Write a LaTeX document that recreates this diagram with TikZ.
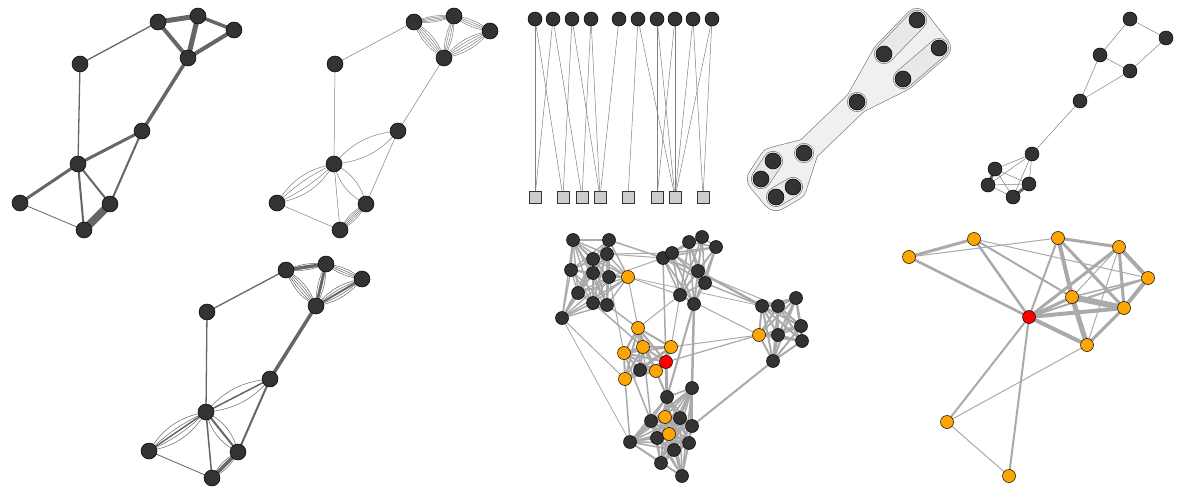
\documentclass[tikz,border=0pt]{standalone}
\usetikzlibrary{calc}
\definecolor{nd}{HTML}{333333}
\definecolor{eg}{HTML}{666666}
\definecolor{lg}{HTML}{AAAAAA}
\definecolor{og}{HTML}{FFA500}
\begin{document}
\begin{tikzpicture}[x=1pt,y=-1pt,
 dn/.style={circle,fill=nd,draw=black,line width=0.5pt,minimum size=16pt,inner sep=0pt},
 sn/.style={circle,fill=nd,draw=black,line width=0.5pt,minimum size=14pt,inner sep=0pt},
 bn/.style={circle,fill=nd,draw=black,line width=0.5pt,minimum size=13pt,inner sep=0pt},
 yn/.style={bn,fill=og},
 rn/.style={bn,fill=red},
 sq/.style={rectangle,fill=lg!60,draw=nd,line width=0.5pt,minimum size=12pt,inner sep=0pt},
 e1/.style={draw=eg},
 e2/.style={draw=gray,line width=0.5pt},
 ge/.style={draw=lg}]
\useasboundingbox (0,0) rectangle (1200,495);

% ---------- panel 1 ----------
\foreach \n/\x/\y in {1/158/22,2/198/16,3/234/30,4/188/58,5/80/64,6/142/131,7/78/164,8/20/203,9/110/204,10/84/230}
  \coordinate (A\n) at (\x,\y);
\foreach \a/\b/\w in {1/5/1.3,5/7/1.3,1/2/5,1/4/4,2/4/5,2/3/3.5,3/4/4,4/6/3.5,6/7/3,6/9/2,7/8/3,7/10/2,7/9/2,8/10/0.8,9/10/8}
  \draw[e1,line width=\w pt] (A\a) -- (A\b);
\foreach \n in {1,...,10} \node[dn] at (A\n) {};

% ---------- panel 2 ----------
\foreach \n/\x/\y in {1/414/22,2/454/16,3/490/31,4/444/58,5/335/64,6/398/131,7/334/164,8/277/203,9/366/204,10/340/230}
  \coordinate (B\n) at (\x,\y);
\foreach \n/\x/\y in {1/286/270,2/326/264,3/362/279,4/316/306,5/207/312,6/270/379,7/206/412,8/149/451,9/238/452,10/212/478}
  \coordinate (C\n) at (\x,\y);
\foreach \a/\b in {1/5,5/7,4/6,6/9,8/10,7/10} \draw[e2] (B\a) -- (B\b);
\foreach \a/\b/\L in {1/2/{-14,-7,0,7,14},1/4/{-20,-10,0,10,20},2/4/{-14,-5,5,14},2/3/{-16,-5,5,16},3/4/{-20,-10,0,10,20},6/7/{-22,22},7/8/{-24,-9,9,24},7/9/{-24,24},9/10/{-18,-9,0,9,18}}
  \foreach \bb in \L \draw[e2] (B\a) to[bend left=\bb] (B\b);
\foreach \n in {1,...,10} \node[dn] at (B\n) {};

% ---------- panel 3 ----------
\foreach \a/\b/\w in {1/5/1.3,5/7/1.3,4/6/3.5,6/9/2,8/10/0.8,7/10/1.5}
  \draw[e1,line width=\w pt] (C\a) -- (C\b);
\foreach \a/\b/\L in {1/2/{-14,-7,0,7,14},1/4/{-20,-10,0,10,20},2/4/{-14,-5,5,14},2/3/{-16,-5,5,16},3/4/{-20,-10,0,10,20},6/7/{-22,22},7/8/{-24,-9,9,24},7/9/{-24,24},9/10/{-18,-9,0,9,18}}
  \foreach \bb in \L \draw[e2,draw=eg] (C\a) to[bend left=\bb] (C\b);
\foreach \a/\b/\w in {1/2/3,2/4/2.5,3/4/2,7/8/1.5,7/9/2,9/10/3,6/7/1.5}
  \draw[e1,line width=\w pt] (C\a) -- (C\b);
\foreach \n in {1,...,10} \node[dn] at (C\n) {};

% ---------- bipartite ----------
\foreach \n/\x in {1/535,2/553,3/572,4/591,5/619,6/638,7/657,8/675,9/693,10/712}
  \coordinate (T\n) at (\x,19);
\foreach \n/\x in {1/535,2/563,3/582,4/600,5/628,6/657,7/675,8/703}
  \coordinate (S\n) at (\x,197);
\foreach \a/\b in {1/1,1/2,2/1,2/3,3/2,3/4,4/3,4/4,5/4,6/5,6/7,7/6,7/7,8/6,8/7,9/7,9/8,10/7,10/8}
  \draw[e2] (T\a) -- (S\b);
\foreach \n in {1,...,10} \node[sn] at (T\n) {};
\foreach \n in {1,...,8} \node[sq] at (S\n) {};

% ---------- hypergraph ----------
\foreach \n/\x/\y in {1/917/20,2/939/48,3/884/54,4/903/79,5/857/102,6/804/153,7/773/161,8/761/179,9/793/187,10/776/197}
  \coordinate (H\n) at (\x,\y);
\begin{scope}[line join=round,line cap=round]
\draw[line width=24pt,draw=gray,fill=gray] (H5)--(H3)--(H1)--(H2)--(H4)--cycle;
\draw[line width=24pt,draw=gray] (H5)--(H6);
\draw[line width=28pt,draw=gray,fill=gray] (H6)--(H7)--(H8)--(H10)--(H9)--cycle;
\draw[line width=22.6pt,draw=black!6,fill=black!6] (H5)--(H3)--(H1)--(H2)--(H4)--cycle;
\draw[line width=22.6pt,draw=black!6] (H5)--(H6);
\draw[line width=26.6pt,draw=black!6,fill=black!6] (H6)--(H7)--(H8)--(H10)--(H9)--cycle;
\foreach \a/\b in {1/3,2/4,7/8,9/10,5/5,6/6}{
  \draw[line width=20pt,draw=gray] (H\a)--(H\b);
  \draw[line width=18.6pt,draw=black!9] (H\a)--(H\b);}
\end{scope}
\foreach \n in {1,...,10} \node[dn] at (H\n) {};

% ---------- panel top right ----------
\foreach \n/\x/\y in {1/1130/19,2/1166/38,3/1100/55,4/1130/71,5/1080/101,6/1032/154,7/995/169,8/988/185,9/1029/184,10/1013/197}
  \coordinate (R\n) at (\x,\y);
\foreach \a/\b in {1/2,1/3,2/4,3/4,3/5,4/5,5/6,6/7,6/8,6/9,6/10,7/9,7/10,8/9,8/10}
  \draw[e2] (R\a) -- (R\b);
\draw[e1,line width=3pt] (R7)--(R8);
\draw[e1,line width=3pt] (R9)--(R10);
\foreach \n in {1,...,10} \node[sn] at (R\n) {};

% ---------- bottom right ----------
\foreach \n/\x/\y in {1/909/257,2/974/239,3/1058/238,4/1119/247,5/1148/278,6/1072/297,7/1124/308,8/1087/345,0/1029/317,9/947/422,10/1009/476}
  \coordinate (O\n) at (\x,\y);
\foreach \a/\b/\w in {1/2/3,1/0/2.5,1/3/1,2/0/2.5,2/6/2,2/5/1,3/0/2,3/4/3,3/6/4,3/8/1,3/7/3,4/0/3,4/7/3,4/5/4,4/6/1,4/8/1,5/0/2,5/7/4,5/6/1.5,6/0/3,6/7/6,6/8/5,0/7/4,0/8/4,7/8/3,0/9/2,0/10/2,9/8/1,9/10/1}
  \draw[ge,line width=\w pt] (O\a) -- (O\b);
\foreach \n in {1,...,10} \node[yn] at (O\n) {};
\node[rn] at (O0) {};

% ---------- bottom middle ----------
\foreach \n/\x/\y in {1/573/240,2/609/240,3/593/259,4/607/254,5/571/270,6/593/273,7/609/277,8/578/293,9/593/303,10/607/305,11/562/318,12/628/277}
  \coordinate (N\n) at (\x,\y);
\foreach \n/\x/\y in {1/663/258,2/672/253,3/689/242,4/702/237,5/716/247,6/698/271,7/705/283,8/680/295,9/694/304}
  \coordinate (M\n) at (\x,\y);
\foreach \n/\x/\y in {1/762/306,2/778/306,3/796/298,4/759/335,5/778/335,6/801/326,7/802/341,8/773/361}
  \coordinate (Q\n) at (\x,\y);
\foreach \n/\x/\y in {1/638/328,2/643/347,3/671/347,4/624/353,5/666/362,6/640/370,7/656/371,8/625/379}
  \coordinate (P\n) at (\x,\y);
\foreach \n/\x/\y in {1/692/388,2/667/397,3/665/417,4/651/421,5/680/418,6/692/426,7/669/434,8/657/438,9/630/442,10/689/443,11/674/450,12/661/463,13/682/476}
  \coordinate (K\n) at (\x,\y);
\foreach \i in {1,...,12}{\foreach \j in {\i,...,12}{\ifnum\i<\j \draw[ge,line width=1.4pt] (N\i)--(N\j);\fi}}
\foreach \i in {1,...,9}{\foreach \j in {\i,...,9}{\ifnum\i<\j \draw[ge,line width=1.6pt] (M\i)--(M\j);\fi}}
\foreach \i in {1,...,8}{\foreach \j in {\i,...,8}{\ifnum\i<\j \draw[ge,line width=2pt] (Q\i)--(Q\j);\fi}}
\foreach \i in {1,...,8}{\foreach \j in {\i,...,8}{\ifnum\i<\j \draw[ge,line width=2pt] (P\i)--(P\j);\fi}}
\foreach \i in {1,...,13}{\foreach \j in {\i,...,13}{\ifnum\i<\j \draw[ge,line width=1.6pt] (K\i)--(K\j);\fi}}
\foreach \a/\b/\w in {N11/K9/0.8,N12/M8/1,N2/M1/1.5,N4/M1/1,N4/M2/1,N7/M1/1,M6/Q1/2.5,M7/Q1/1.5,M8/Q4/1,M9/K1/2.5,M9/K2/2,M1/P5/1.5,M8/P1/1,P3/Q4/1,P5/Q4/1,P6/Q4/0.8,Q8/K6/2,P5/K2/3,P8/K9/1.5,P4/K4/1.5,N9/P2/1.5,N10/P1/1.5,N7/P4/1,N11/P8/1,N12/P1/1,M8/P3/1,P7/K2/2,P2/K4/1.5,M1/Q2/1,N12/Q1/0.8}
  \draw[ge,line width=\w pt] (\a) -- (\b);
\foreach \n in {1,...,11} \node[bn] at (N\n) {};
\node[yn] at (N12) {};
\foreach \n in {1,...,9} \node[bn] at (M\n) {};
\foreach \n in {1,2,3,5,6,7,8} \node[bn] at (Q\n) {};
\node[yn] at (Q4) {};
\foreach \n in {1,2,3,4,7,8} \node[yn] at (P\n) {};
\node[bn] at (P6) {};
\node[rn] at (P5) {};
\foreach \n in {1,2,4,5,6,8,9,10,11,12,13} \node[bn] at (K\n) {};
\node[yn] at (K3) {};
\node[yn] at (K7) {};
\end{tikzpicture}
\end{document}
